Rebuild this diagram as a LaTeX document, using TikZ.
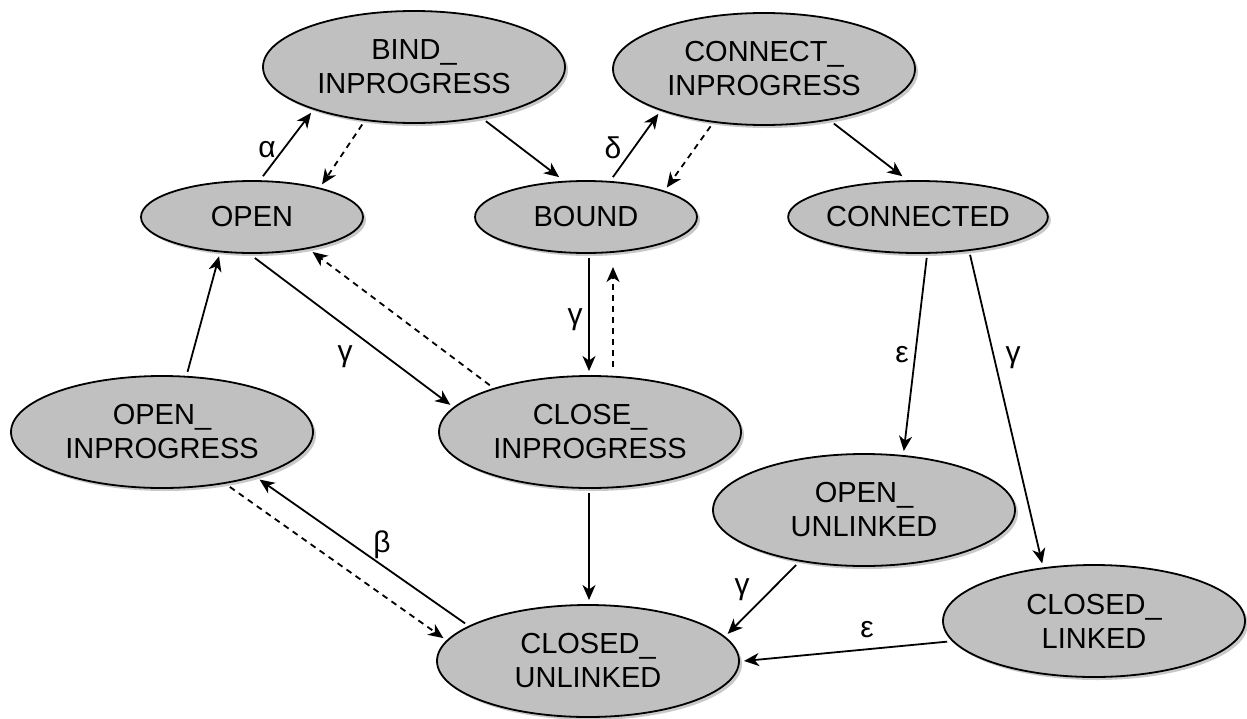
\documentclass[tikz,border=0pt]{standalone}
\usepackage{fontspec}
\setmainfont{Liberation Sans}
\usetikzlibrary{shapes.geometric,arrows.meta,shadows}
\definecolor{statefill}{RGB}{192,192,192}
\begin{document}
\begin{tikzpicture}[x=1pt,y=-1pt,
  state/.style={ellipse,draw=black,line width=1.8pt,fill=statefill,inner sep=0pt,outer sep=5pt,
    align=center,font=\fontsize{29pt}{34pt}\selectfont,
    drop shadow={shadow xshift=3pt,shadow yshift=-3pt,fill=black!30,opacity=0.7}},
  bigstate/.style={state,minimum width=302pt,minimum height=112pt},
  smallstate/.style={state,minimum width=222pt,minimum height=72pt},
  arr/.style={line width=1.8pt,-{Stealth[length=15pt,width=13pt,inset=4.5pt]}},
  darr/.style={arr,dash pattern=on 6pt off 5pt},
  lbl/.style={font=\fontsize{30pt}{34pt}\selectfont,inner sep=0pt}]
\useasboundingbox (0,0) rectangle (1247,718);
\node[bigstate] (bind) at (414,67) {BIND\_\\INPROGRESS};
\node[bigstate] (conn) at (764,69) {CONNECT\_\\INPROGRESS};
\node[smallstate] (open) at (252,217) {OPEN};
\node[smallstate] (bound) at (586,217) {BOUND};
\node[smallstate] (connected) at (918,217) {CONNECTED};
\node[bigstate] (openip) at (162,432) {OPEN\_\\INPROGRESS};
\node[bigstate] (closeip) at (590,432) {CLOSE\_\\INPROGRESS};
\node[bigstate] (openul) at (864,510) {OPEN\_\\UNLINKED};
\node[bigstate] (closedl) at (1094,621) {CLOSED\_\\LINKED};
\node[bigstate] (closedul) at (588,661) {CLOSED\_\\UNLINKED};
% connectors
\draw[arr] (open.75) -- (bind.204);
\draw[darr] (bind.228) -- (open.25);
\draw[arr] (bind.323) -- (bound.124);
\draw[arr] (bound.56) -- (conn.203);
\draw[darr] (conn.227) -- (bound.20);
\draw[arr] (conn.322) -- (connected.111);
\draw[arr] ([xshift=3pt]bound.south) -- ([xshift=-1pt]closeip.north);
\draw[darr,shorten <=4pt,shorten >=9pt] ([xshift=23pt]closeip.north) -- ([xshift=27pt]bound.south);
\draw[arr] (open.274) -- (closeip.169);
\draw[darr] (closeip.155) -- (open.330);
\draw[arr] (openip.67) -- (open.230);
\draw[arr] (closedul.163) -- (openip.334);
\draw[darr] (openip.321) -- (closedul.171);
\draw[arr] ([xshift=-1pt]closeip.south) -- ([xshift=1pt]closedul.north);
\draw[arr] (connected.282) -- (openul.56);
\draw[arr] (connected.324) -- (closedl.132);
\draw[arr] (openul.219) -- (closedul.11);
\draw[arr] (closedl.188) -- (closedul.0);
% labels
\node[lbl] (la) at (267,150) {α};
\node[lbl] (ld) at (613,148) {δ};
\node[lbl] (lg1) at (575,320) {γ};
\node[lbl] (lg2) at (345,357) {γ};
\node[lbl] (lb) at (382,545) {β};
\node[lbl] (le1) at (902,355) {ε};
\node[lbl] (lg3) at (1013,358) {γ};
\node[lbl] (lg4) at (742,590) {γ};
\node[lbl] (le2) at (867,630) {ε};
\end{tikzpicture}
\end{document}
